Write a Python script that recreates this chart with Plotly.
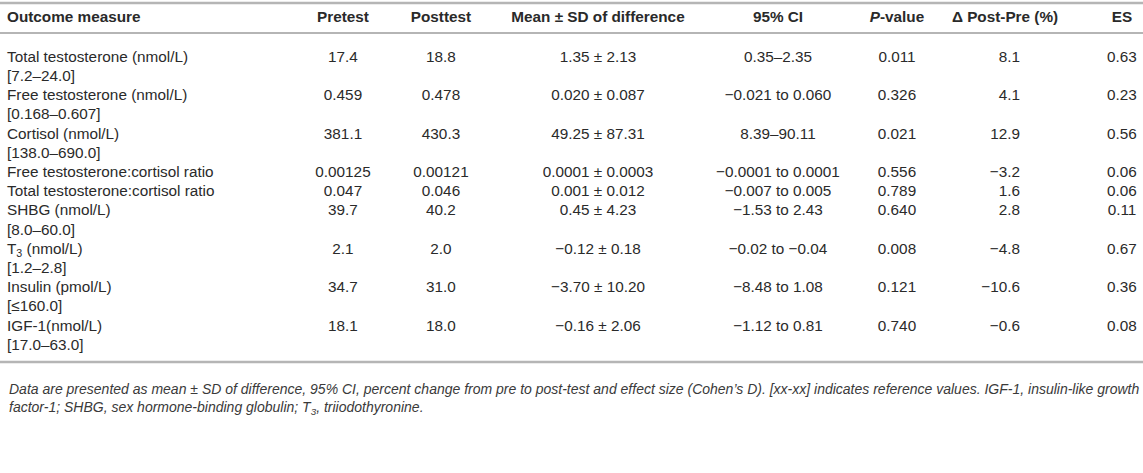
import plotly.graph_objects as go

# table content
outcomes = ["Total testosterone (nmol/L)", "Free testosterone (nmol/L)", "Cortisol (nmol/L)",
            "Free testosterone:cortisol ratio", "Total testosterone:cortisol ratio",
            "SHBG (nmol/L)", "T<sub>3</sub> (nmol/L)", "Insulin (pmol/L)", "IGF-1(nmol/L)"]
ref_ranges = ["[7.2–24.0]", "[0.168–0.607]", "[138.0–690.0]", "", "",
              "[8.0–60.0]", "[1.2–2.8]", "[≤160.0]", "[17.0–63.0]"]
pretest = ["17.4", "0.459", "381.1", "0.00125", "0.047", "39.7", "2.1", "34.7", "18.1"]
posttest = ["18.8", "0.478", "430.3", "0.00121", "0.046", "40.2", "2.0", "31.0", "18.0"]
mean_sd = ["1.35 ± 2.13", "0.020 ± 0.087", "49.25 ± 87.31", "0.0001 ± 0.0003", "0.001 ± 0.012",
           "0.45 ± 4.23", "−0.12 ± 0.18", "−3.70 ± 10.20", "−0.16 ± 2.06"]
ci95 = ["0.35–2.35", "−0.021 to 0.060", "8.39–90.11", "−0.0001 to 0.0001", "−0.007 to 0.005",
        "−1.53 to 2.43", "−0.02 to −0.04", "−8.48 to 1.08", "−1.12 to 0.81"]
p_values = ["0.011", "0.326", "0.021", "0.556", "0.789", "0.640", "0.008", "0.121", "0.740"]
delta_pct = ["8.1", "4.1", "12.9", "−3.2", "1.6", "2.8", "−4.8", "−10.6", "−0.6"]
effect_size = ["0.63", "0.23", "0.56", "0.06", "0.06", "0.11", "0.67", "0.36", "0.08"]
headers = ["Outcome measure", "Pretest", "Posttest", "Mean ± SD of difference", "95% CI",
           "<i>P</i>-value", "Δ Post-Pre (%)", "ES"]
footnote = ("Data are presented as mean ± SD of difference, 95% CI, percent change from pre to post-test "
            "and effect size (Cohen’s D). [xx-xx] indicates reference values. IGF-1, insulin-like growth<br>"
            "factor-1; SHBG, sex hormone-binding globulin; T<sub>3</sub>, triiodothyronine.")

W, H = 1143, 473
TXT = "#2a2a2a"
RULE = "#b5b5b5"
FONT = "Liberation Sans, Arial, sans-serif"
FS = 15.3
LINE_H = 19.2

# row layout: each row takes one line, plus one more if it has a reference range
row_y = []
y = 58
for r in ref_ranges:
    row_y.append(y)
    y += LINE_H * (2 if r else 1)

col_x = [7, 343, 441, 598, 778, 897, 1020, 1122]
col_pos = ["middle right", "middle center", "middle center", "middle center", "middle center",
           "middle center", "middle left", "middle center"]
columns = [outcomes, pretest, posttest, mean_sd, ci95, p_values, delta_pct, effect_size]

fig = go.Figure()

# header
head_pos = ["middle right"] + ["middle center"] * 7
for hx, hp, ht in zip(col_x, head_pos, headers):
    if ht.startswith("Δ"):
        hx = 1005
    fig.add_trace(go.Scatter(x=[hx], y=[18], mode="text", text=["<b>" + ht + "</b>"],
                             textposition=hp, textfont=dict(family=FONT, size=FS, color=TXT),
                             hoverinfo="skip"))

# body
for cx, cp, vals in zip(col_x, col_pos, columns):
    fig.add_trace(go.Scatter(x=[cx] * len(vals), y=row_y, mode="text", text=vals,
                             textposition=cp, textfont=dict(family=FONT, size=FS, color=TXT),
                             hoverinfo="skip"))

ref_y = [ry + LINE_H for ry, r in zip(row_y, ref_ranges) if r]
fig.add_trace(go.Scatter(x=[col_x[0]] * len(ref_y), y=ref_y, mode="text",
                         text=[r for r in ref_ranges if r], textposition="middle right",
                         textfont=dict(family=FONT, size=FS, color=TXT), hoverinfo="skip"))

# rules
for ly, lw in [(3, 2.5), (33, 2), (362, 2.5)]:
    fig.add_shape(type="line", x0=0, x1=W, y0=ly, y1=ly, line=dict(color=RULE, width=lw))

fig.add_annotation(x=7, y=379, xref="x", yref="y", xanchor="left", yanchor="top", align="left",
                   text="<i>" + footnote + "</i>", showarrow=False,
                   font=dict(family=FONT, size=14, color="#3a3a3a"))

fig.update_layout(width=W, height=H, margin=dict(l=0, r=0, t=0, b=0),
                  paper_bgcolor="white", plot_bgcolor="white", showlegend=False,
                  xaxis=dict(range=[0, W], visible=False, fixedrange=True),
                  yaxis=dict(range=[H, 0], visible=False, fixedrange=True))

fig.write_html("out.html", config={"displayModeBar": False},
               post_script="document.body.style.margin='0';")
